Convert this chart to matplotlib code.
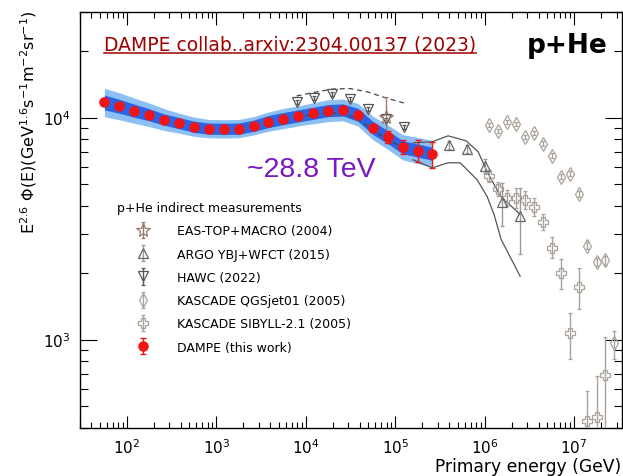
import matplotlib
matplotlib.use("Agg")
import matplotlib.pyplot as plt
from matplotlib.container import ErrorbarContainer
from matplotlib.legend_handler import HandlerErrorbar
from matplotlib.lines import Line2D
from matplotlib.ticker import LogLocator, NullFormatter

# DAMPE p+He (this work)
dampe_e = [56.2, 82.5, 121, 178, 261, 383, 562, 825, 1210, 1780, 2610, 3830,
           5620, 8250, 12100, 17800, 26100, 38300, 56200, 82500, 121000,
           178000, 261000]
dampe_flux = [11700, 11250, 10750, 10300, 9800, 9450, 9100, 8920, 8900, 8920,
              9190, 9600, 9900, 10180, 10460, 10750, 10830, 10300, 8990, 8170,
              7360, 7110, 6870]
dampe_err = [0.02, 0.02, 0.02, 0.02, 0.02, 0.02, 0.02, 0.02, 0.02, 0.02, 0.02,
             0.02, 0.02, 0.02, 0.02, 0.02, 0.02, 0.02, 0.04, 0.064, 0.072,
             0.11, 0.135]
# inner (dark) and outer (light) uncertainty bands, relative
band_in = [0.08, 0.075, 0.07, 0.065, 0.06, 0.06, 0.06, 0.06, 0.06, 0.06, 0.06,
           0.065, 0.065, 0.065, 0.065, 0.065, 0.065, 0.07, 0.07, 0.07, 0.07,
           0.07, 0.07]
band_out = [0.16, 0.15, 0.14, 0.13, 0.12, 0.11, 0.105, 0.10, 0.10, 0.10, 0.10,
            0.105, 0.11, 0.11, 0.115, 0.12, 0.12, 0.125, 0.13, 0.135, 0.14,
            0.145, 0.15]

# HAWC (2022)
hawc_e = [7900, 12500, 19800, 31400, 49700, 78800, 125000]
hawc_flux = [11740, 12220, 12800, 12150, 10900, 9810, 9060]
hawc_up = [12520, 13000, 13450, 13520, 13040, 12260, 11640]
hawc_lo = [10070, 10340, 10550, 10180, 9180, 8020, 7310]

# EAS-TOP+MACRO (2004)
eas_e = [79000]
eas_flux = [10100]
eas_hi = [12420]
eas_lo = [7700]

# ARGO-YBJ+WFCT (2015)
argo_e = [398000, 631000, 1000000, 1580000, 2510000]
argo_flux = [7500, 7240, 6070, 4160, 3590]
argo_hi = [7820, 7540, 6530, 5090, 4840]
argo_lo = [7200, 6940, 5650, 3240, 2420]
argo_band_up_e = [158600, 258700, 390600, 620800, 845300, 1066000, 1489000, 2492000]
argo_band_up = [7700, 7780, 8280, 7860, 7020, 5710, 4450, 3660]
argo_band_lo_e = [158600, 258700, 390600, 531600, 823600, 1066000, 1274000,
                  1525000, 2492000]
argo_band_lo = [6460, 5940, 6260, 6260, 5250, 4410, 3660, 2830, 1930]

# KASCADE QGSjet01 (2005)
qgs_e = [1.12e6, 1.41e6, 1.78e6, 2.24e6, 2.82e6, 3.55e6, 4.47e6, 5.62e6,
         7.08e6, 8.91e6, 1.12e7, 1.41e7, 1.78e7, 2.24e7, 2.82e7]
qgs_flux = [9250, 8730, 9570, 9370, 8190, 8510, 7640, 6750, 5420, 5590, 4520,
            2650, 2240, 2280, 961]
qgs_hi = [9450, 8930, 9780, 9580, 8380, 8710, 7820, 6920, 5560, 5740, 4650,
          2740, 2330, 2380, 1095]
qgs_lo = [9050, 8540, 9360, 9170, 8000, 8320, 7460, 6580, 5280, 5440, 4390,
          2560, 2150, 2180, 817]

# KASCADE SIBYLL-2.1 (2005)
sib_e = [1.12e6, 1.41e6, 1.78e6, 2.24e6, 2.82e6, 3.55e6, 4.47e6, 5.62e6,
         7.08e6, 8.91e6, 1.12e7, 1.41e7, 1.78e7, 2.24e7]
sib_flux = [5475, 4760, 4360, 4350, 4270, 3970, 3380, 2600, 1995, 1067, 1729,
            428, 448, 695]
sib_hi = [5825, 5125, 4740, 4830, 4690, 4360, 3670, 2905, 2314, 1315, 2109,
          589, 688, 1033]
sib_lo = [5146, 4423, 4010, 3910, 3890, 3620, 3110, 2339, 1685, 817, 1370,
          300, 300, 300]

legend_labels = ["EAS-TOP+MACRO (2004)", "ARGO YBJ+WFCT (2015)", "HAWC (2022)",
                 "KASCADE QGSjet01 (2005)", "KASCADE SIBYLL-2.1 (2005)",
                 "DAMPE (this work)"]
x_ticks = [1e2, 1e3, 1e4, 1e5, 1e6, 1e7]
y_ticks = [1e3, 1e4]


def asym(vals, hi, lo):
    return [[v - l for v, l in zip(vals, lo)], [h - v for v, h in zip(vals, hi)]]


W, H = 623, 477
fig = plt.figure(figsize=(W / 100, H / 100), dpi=100)
ax = fig.add_axes([80 / W, 1 - 429 / H, 541.7 / W, (429 - 12.7) / H])
ax.set_xscale("log")
ax.set_yscale("log")
ax.set_xlim(30, 3.4e7)
ax.set_ylim(400, 3.0e4)

# DAMPE bands
out_lo = [f / (1 + b) for f, b in zip(dampe_flux, band_out)]
out_hi = [f * (1 + b) for f, b in zip(dampe_flux, band_out)]
in_lo = [f / (1 + b) for f, b in zip(dampe_flux, band_in)]
in_hi = [f * (1 + b) for f, b in zip(dampe_flux, band_in)]
ax.fill_between(dampe_e, out_lo, out_hi, color="#8cc0f5", lw=0, zorder=1)
ax.fill_between(dampe_e, in_lo, in_hi, color="#2b63e6", lw=0, zorder=1.5)

# ARGO band lines and HAWC dashed band
ax.plot(argo_band_up_e, argo_band_up, color="#555555", lw=0.9, zorder=2)
ax.plot(argo_band_lo_e, argo_band_lo, color="#555555", lw=0.9, zorder=2)
ax.plot(hawc_e, hawc_up, color="#444444", lw=0.9, ls=(0, (4, 3)), zorder=2)
ax.plot(hawc_e, hawc_lo, color="#444444", lw=0.9, ls=(0, (4, 3)), zorder=2)

kas_col = "#aaa39b"
h_qgs = ax.errorbar(qgs_e, qgs_flux, yerr=asym(qgs_flux, qgs_hi, qgs_lo),
                    fmt="d", ms=7.5, mfc="none", mec=kas_col, mew=0.9,
                    ecolor=kas_col, elinewidth=1, capsize=1.5, zorder=3)
h_sib = ax.errorbar(sib_e, sib_flux, yerr=asym(sib_flux, sib_hi, sib_lo),
                    fmt="P", ms=6.5, mfc="none", mec=kas_col, mew=0.9,
                    ecolor=kas_col, elinewidth=1, capsize=1.5, zorder=3)
h_argo = ax.errorbar(argo_e, argo_flux, yerr=asym(argo_flux, argo_hi, argo_lo),
                     fmt="^", ms=6.5, mfc="none", mec="#666666", mew=0.9,
                     ecolor="#999999", elinewidth=1, capsize=1.5, zorder=4)
hawc_err = [[f * 0.02 for f in hawc_flux], [f * 0.02 for f in hawc_flux]]
h_hawc = ax.errorbar(hawc_e, hawc_flux, yerr=hawc_err, fmt="v", ms=6.5,
                     mfc="none", mec="#555555", mew=0.9, ecolor="#555555",
                     elinewidth=1, capsize=1.5, zorder=4)
h_eas = ax.errorbar(eas_e, eas_flux, yerr=asym(eas_flux, eas_hi, eas_lo),
                    fmt="*", ms=10, mfc="none", mec="#9a7a70", mew=0.9,
                    ecolor="#9a7a70", elinewidth=1, capsize=1.5, zorder=4)

d_err = [[f * e for f, e in zip(dampe_flux, dampe_err)],
         [f * e for f, e in zip(dampe_flux, dampe_err)]]
h_dampe = ax.errorbar(dampe_e, dampe_flux, yerr=d_err, fmt="o", ms=6.6,
                      color="#f01414", ecolor="#f01414", elinewidth=1,
                      capsize=2, zorder=5)

# ticks, ROOT style
ax.set_xticks(x_ticks)
ax.set_yticks(y_ticks)
ax.set_xlim(30, 3.4e7)
ax.set_ylim(400, 3.0e4)
ax.yaxis.set_minor_locator(LogLocator(base=10, subs=(2, 3, 4, 5, 6, 7, 8, 9)))
ax.yaxis.set_minor_formatter(NullFormatter())
ax.xaxis.set_minor_formatter(NullFormatter())
ax.tick_params(which="both", direction="in", top=True, right=True, width=0.8,
               labelsize=11)
ax.tick_params(axis="x", which="major", length=9, pad=7)
ax.tick_params(axis="x", which="minor", length=4.3)
ax.tick_params(axis="y", which="major", length=12, pad=7)
ax.tick_params(axis="y", which="minor", length=6)
for s in ax.spines.values():
    s.set_linewidth(1.0)

leg = ax.legend([h_eas, h_argo, h_hawc, h_qgs, h_sib, h_dampe], legend_labels,
                loc="upper left", bbox_to_anchor=(0.068, 0.545), frameon=False,
                fontsize=9, title="p+He indirect measurements",
                title_fontsize=9, alignment="left", borderpad=0,
                borderaxespad=0, handlelength=4.2, handletextpad=0.6,
                labelspacing=0.82,
                handler_map={ErrorbarContainer: HandlerErrorbar(xerr_size=0.65)})

fig.text(29 / W, 1 - 10 / H,
         r"E$^{2.6}$ $\Phi$(E)(GeV$^{1.6}$s$^{-1}$m$^{-2}$sr$^{-1}$)",
         rotation=90, ha="center", va="top", fontsize=11.5)
fig.text(621.5 / W, 1 - 472 / H, "Primary energy (GeV)", ha="right",
         va="baseline", fontsize=12.3)

ref = fig.text(104 / W, 1 - 50.7 / H, "DAMPE collab..arxiv:2304.00137 (2023)",
               color="#a00000", fontsize=13.5, va="baseline")
fig.text(526.7 / W, 1 - 53.3 / H, "p+He", fontsize=19, fontweight="bold",
         va="baseline")
fig.text(246.7 / W, 1 - 177 / H, "~28.8 TeV", color="#7a18c4", fontsize=20.5,
         family="Liberation Sans", va="baseline")

# underline for the reference
fig.canvas.draw()
bb = ref.get_window_extent()
x0, _ = fig.transFigure.inverted().transform((bb.x0, bb.y0))
x1, _ = fig.transFigure.inverted().transform((bb.x1, bb.y0))
fig.add_artist(Line2D([x0, x1], [1 - 53.5 / H, 1 - 53.5 / H], color="#a00000",
                      lw=1.1, transform=fig.transFigure))

fig.savefig("out.png", dpi=100)
